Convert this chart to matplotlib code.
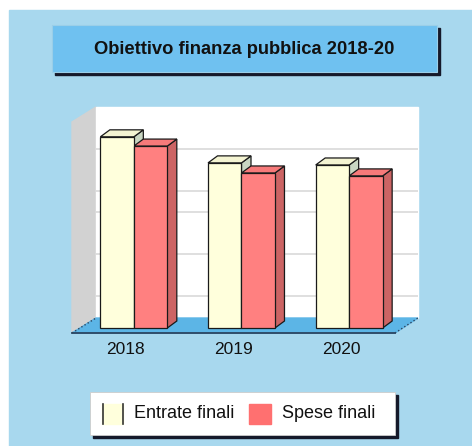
"""
Obiettivo finanza pubblica 2018-20: pseudo-3D grouped bars (entrate vs spese finali).
Saves out.png in the current directory.
"""
import matplotlib
matplotlib.use("Agg")
import matplotlib.pyplot as plt
from matplotlib.patches import Polygon, Rectangle

plt.rcParams['font.family'] = ['Liberation Sans', 'DejaVu Sans']

years = ['2018', '2019', '2020']
series_names = ['Entrate finali', 'Spese finali']
entrate = [455, 393, 388]
spese = [433, 369, 362]
grid_levels = [50, 150, 250, 300, 400]
title = 'Obiettivo finanza pubblica 2018-20'

W, H = 472, 446
BG = '#a8d8ee'
FRONT = {'Entrate finali': '#ffffdc', 'Spese finali': '#ff8080'}
TOP = {'Entrate finali': '#f4f4d2', 'Spese finali': '#f77a7a'}
SIDE = {'Entrate finali': '#c9d6c2', 'Spese finali': '#cc6464'}

fig = plt.figure(figsize=(W / 100, H / 100), dpi=100)

# background layer in pixel coordinates (y grows downward)
deco = fig.add_axes([0, 0, 1, 1])
deco.set_xlim(0, W)
deco.set_ylim(H, 0)
deco.axis('off')
deco.add_patch(Rectangle((9, 10), W - 9, H - 10, color=BG, zorder=0))

# title box with hard shadow
deco.add_patch(Rectangle((55, 28), 385, 47, color='#15192a', zorder=1))
deco.add_patch(Rectangle((52, 25), 385, 47, facecolor='#6fc1f0',
                         edgecolor='#9bcfe8', lw=0.8, zorder=2))
deco.text(244, 49, title, ha='center', va='center', fontsize=13.2,
          fontweight='bold', color='#111111', zorder=3)

# 3D box: left wall, back wall, floor
deco.add_patch(Polygon([(72, 333), (96, 318), (96, 107), (72, 122)],
                       closed=True, color='#d2d2d2', zorder=1))
deco.add_patch(Rectangle((96, 107), 322, 211, color='white', zorder=1))
deco.add_patch(Polygon([(72, 333), (395, 333), (418, 318), (96, 318)],
                       closed=True, color='#5cb5e6', zorder=1))
deco.plot([72, 395], [333, 333], color='#2b4560', lw=1.3, zorder=2)
deco.plot([72, 96], [333, 318], color='#2b4560', lw=1, ls=':', zorder=2)
deco.plot([395, 418], [333, 318], color='#2b4560', lw=1, ls=':', zorder=2)

# legend box
deco.add_patch(Rectangle((93, 395), 305, 43, color='#15192a', zorder=1))
deco.add_patch(Rectangle((90, 392), 305, 43, facecolor='white',
                         edgecolor='#cccccc', lw=0.6, zorder=2))
deco.add_patch(Rectangle((102, 404), 21, 20, color=FRONT['Entrate finali'], zorder=3))
deco.plot([102.5, 102.5], [404, 424], color='#333333', lw=1.2, zorder=4)
deco.plot([122.5, 122.5], [404, 424], color='#333333', lw=1.2, zorder=4)
deco.text(134, 414, series_names[0], ha='left', va='center', fontsize=13, color='#111111', zorder=4)
deco.add_patch(Rectangle((249, 404), 22, 20, color='#ff7070', zorder=3))
deco.text(282, 414, series_names[1], ha='left', va='center', fontsize=13, color='#111111', zorder=4)

# data layer: x in category units, y in value units
x_left, x_right = 80, 403          # pixels spanned by the 3 categories
y_base, y_top = 328, 107
ax = fig.add_axes([x_left / W, (H - y_base) / H,
                   (x_right - x_left) / W, (y_base - y_top) / H])
ax.set_xlim(-0.5, 2.5)
ax.set_ylim(0, 526)
ax.axis('off')
ax.patch.set_alpha(0)

px_x = (x_right - x_left) / 3.0          # pixels per category unit
px_y = (y_base - y_top) / 526.0          # pixels per value unit
ddx = 9.5 / px_x
ddy = 7.0 / px_y
wall_shift = 11 / px_y
wall_x0 = (96 - x_left) / px_x - 0.5
wall_x1 = (418 - x_left) / px_x - 0.5

ax.hlines([g + wall_shift for g in grid_levels], wall_x0, wall_x1,
          color='#d9d9d9', lw=1.2, clip_on=False, zorder=1)

bw = 0.311
edge = '#1a1a1a'
for i in range(len(years)):
    for name, vals, off in ((series_names[0], entrate, -bw / 2),
                            (series_names[1], spese, bw / 2)):
        h = vals[i]
        x0 = i + off - bw / 2
        x1 = x0 + bw
        ax.add_patch(Polygon([(x1, 0), (x1, h), (x1 + ddx, h + ddy), (x1 + ddx, ddy)],
                             closed=True, facecolor=SIDE[name], edgecolor=edge,
                             lw=0.9, clip_on=False, zorder=3))
        ax.add_patch(Polygon([(x0, h), (x1, h), (x1 + ddx, h + ddy), (x0 + ddx, h + ddy)],
                             closed=True, facecolor=TOP[name], edgecolor=edge,
                             lw=0.9, clip_on=False, zorder=3))
        ax.bar(i + off, h, width=bw, color=FRONT[name], edgecolor=edge,
               lw=0.9, zorder=4, clip_on=False)

# category labels under the front edge of the floor
lab_shift = -8 / px_x
for i, y in enumerate(years):
    ax.text(i + lab_shift, -(350 - y_base) / px_y, y, ha='center', va='center',
            fontsize=12.5, color='#111111', clip_on=False)

fig.savefig('out.png', dpi=100)
